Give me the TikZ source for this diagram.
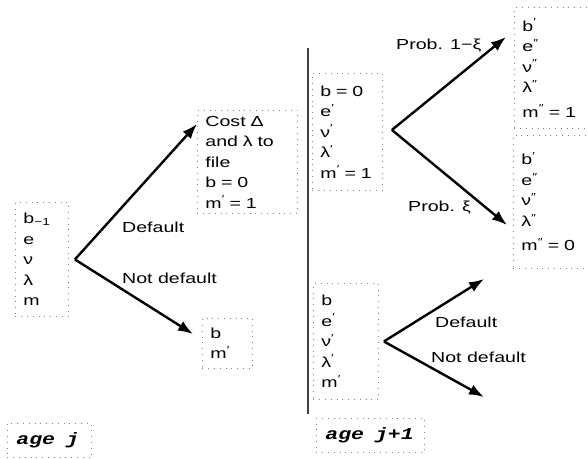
\documentclass[tikz,border=0pt]{standalone}
\usepackage{fontspec}
\setmainfont[FakeStretch=1.35]{Liberation Sans}
\newfontfamily\agefont[FakeStretch=1.3]{Liberation Mono}
\usepackage{tikz}
\usetikzlibrary{positioning, arrows.meta}
\newcommand{\pp}{\textsuperscript{\char"2032}}
\newcommand{\dpp}{\textsuperscript{\char"2033}}

\begin{document}
\begin{tikzpicture}[x=1pt, y=-1pt]
	% 定义样式
	\tikzset{
		cell/.style={
			draw=gray, dash pattern=on 0.8pt off 5pt, line width=0.9pt,
			anchor=north west, align=left,
			inner xsep=8pt, inner ysep=0pt,
			font=\fontsize{14.5}{20.5}\selectfont
		},
		agebox/.style={
			cell, inner xsep=9pt,
			font=\agefont\bfseries\itshape\fontsize{16.5}{18}\selectfont
		},
		branch/.style={
			line width=2.4pt, -{Latex[length=15pt, width=11pt]}
		},
		tag/.style={
			anchor=west, inner sep=0pt,
			font=\fontsize{14.5}{17}\selectfont
		}
	}
	\clip (0,0) rectangle (588,458);

	% 年龄 j 的状态
	\node[cell, text width=37, minimum height=114] (s0) at (15,202)
		{b\textsubscript{−1}\\ e\\ ν\\ λ\\ m};
	\node[cell, text width=84, minimum height=103] (dflt) at (197,110)
		{Cost Δ\\ and λ to\\ file\\ b = 0\\ m\pp{} = 1};
	\node[cell, text width=34, minimum height=50] (keep) at (202,318)
		{b\\ m\pp};

	% 年龄 j+1 的状态
	\node[cell, text width=54, minimum height=117] (s1) at (312,73)
		{b = 0\\ e\pp\\ ν\pp\\ λ\pp\\ m\pp{} = 1};
	\node[cell, text width=64, minimum height=121] (stay) at (514,7)
		{b\pp\\ e\dpp\\ ν\dpp\\ λ\dpp\\[4pt] m\dpp{} = 1};
	\node[cell, text width=64, minimum height=133] (leave) at (513,135)
		{b\pp\\ e\dpp\\ ν\dpp\\ λ\dpp\\[4pt] m\dpp{} = 0};
	\node[cell, text width=49, minimum height=116] (s2) at (313,283)
		{b\\ e\pp\\ ν\pp\\ λ\pp\\ m\pp};

	% 分支终点
	\coordinate (tipA1) at (197,124);
	\coordinate (tipA2) at (193,334);
	\coordinate (tipB1) at (506,37);
	\coordinate (tipB2) at (507,225);
	\coordinate (tipC1) at (484,279);
	\coordinate (tipC2) at (484,397);

	% 分支箭头
	\draw[branch] ([xshift=6pt]s0.east) -- (tipA1);
	\draw[branch] ([xshift=6pt]s0.east) -- (tipA2);
	\draw[branch] ([xshift=9pt,yshift=2pt]s1.east) -- (tipB1);
	\draw[branch] ([xshift=9pt,yshift=2pt]s1.east) -- (tipB2);
	\draw[branch] ([xshift=5pt]s2.east) -- (tipC1);
	\draw[branch] ([xshift=5pt]s2.east) -- (tipC2);

	% 分支标签
	\node[tag] (lA1) at (122,227) {Default};
	\node[tag] (lA2) at (122,278) {Not default};
	\node[tag] (lB1) at (396,45) {Prob. 1−ξ};
	\node[tag] (lB2) at (408,207) {Prob. ξ};
	\node[tag] (lC1) at (435,322) {Default};
	\node[tag] (lC2) at (431,357) {Not default};

	% 分隔线
	\draw[line width=1.5pt, black!75] (308,48) -- (308,414);

	% 年龄标签
	\node[agebox, text width=66, minimum height=34] (age0) at (7,423)
		{age\ \ j};
	\node[agebox, text width=90, minimum height=34] (age1) at (316,418)
		{age\ \ j+1};
\end{tikzpicture}
\end{document}
